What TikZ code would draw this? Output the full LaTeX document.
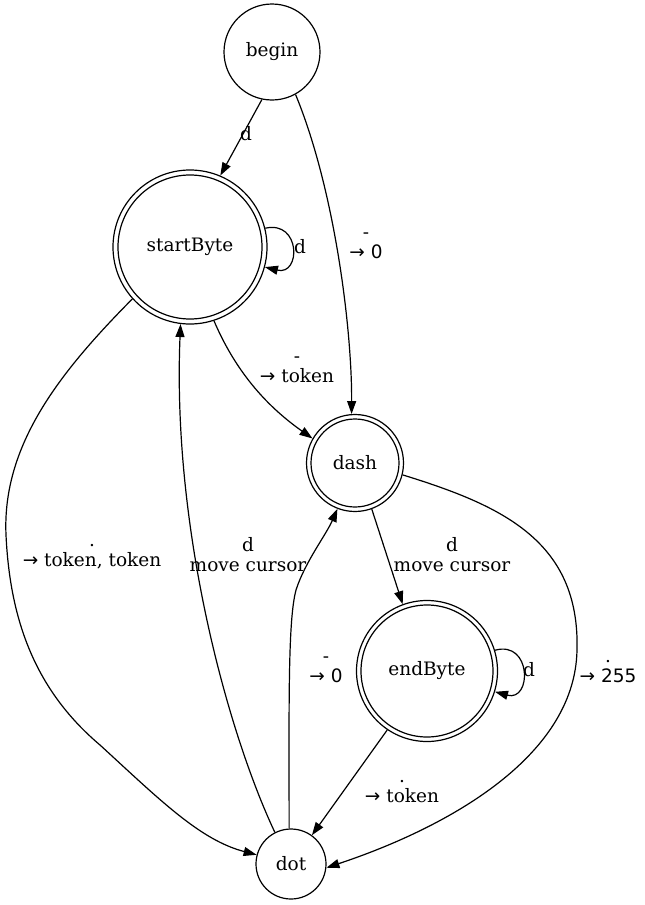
\documentclass[tikz,border=0pt]{standalone}
\usepackage{fontspec}
\setmainfont{DejaVu Serif}
\newfontfamily\symfont{DejaVu Sans}
\usetikzlibrary{arrows.meta}
% arrow and digits in the sans face
\newcommand{\toarr}{{\symfont →}}
\newcommand{\sdig}[1]{{\symfont #1}}
\begin{document}
\begin{tikzpicture}[x=1pt,y=-1pt,
  labelfont/.style={font=\fontsize{18.5}{20}\selectfont},
  state/.style={circle,draw,line width=1.2pt,inner sep=0pt,labelfont},
  ring/.style={circle,draw,line width=1.2pt,inner sep=0pt},
  edge/.style={line width=1.2pt,-{Triangle[length=13pt,width=9pt]}},
  lbl/.style={align=center,inner sep=0pt,labelfont}]
\useasboundingbox (0,0) rectangle (645,905);

% states
\node[state,minimum size=96pt] (begin) at (272,52) {begin};
\node[state,minimum size=154pt] (startByte) at (190,247) {startByte};
\node[ring,minimum size=144pt] (startByteIn) at (startByte) {};
\node[state,minimum size=97pt] (dash) at (355,463) {dash};
\node[ring,minimum size=88pt] (dashIn) at (dash) {};
\node[state,minimum size=141pt] (endByte) at (427,671) {endByte};
\node[ring,minimum size=132pt] (endByteIn) at (endByte) {};
\node[state,minimum size=70pt] (dot) at (291,864) {dot};

% transitions
\draw[edge] (begin.258) -- (startByte.67);
\node[lbl] (lBeginStart) at (246,134) {d};

\draw[edge] (begin.299) .. controls (335,190) and (352,330) .. (dash.94);
\node[lbl] (lBeginDash) at (366,246) {-\\\toarr{} \sdig{0}};

\draw[edge] (startByte.14) .. controls (301,220) and (301,276) .. (startByte.-15);
\node[lbl] (lStartLoop) at (300,247) {d};

\draw[edge] (startByte.288) .. controls (235,370) and (265,405) .. (dash.150);
\node[lbl] (lStartDash) at (297,370) {-\\\toarr{} token};

\draw[edge] (startByte.222) .. controls (60,372) and (2,445) .. (6,535)
  .. controls (10,620) and (35,690) .. (100,745)
  .. controls (160,800) and (200,840) .. (dot.165);
\node[lbl] (lStartDot) at (92,557) {.\\\toarr{} token, token};

\draw[edge] (dot.117) .. controls (228,733) and (172,530) .. (startByte.263);
\node[lbl] (lDotStart) at (248,555) {d\\move cursor};

\draw[edge] (dot.93) .. controls (289,700) and (288,620) .. (296,590)
  .. controls (305,562) and (326,535) .. (dash.249);
\node[lbl] (lDotDash) at (326,670) {-\\\toarr{} \sdig{0}};

\draw[edge] (dash.290) -- (endByte.110);
\node[lbl] (lDashEnd) at (452,555) {d\\move cursor};

\draw[edge] (dash.-14) .. controls (500,505) and (580,540) .. (577,650)
  .. controls (575,760) and (440,830) .. (dot.-6);
\node[lbl] (lDashDot) at (608,672) {.\\\toarr{} \sdig{255}};

\draw[edge] (endByte.17) .. controls (532,640) and (532,702) .. (endByte.-17);
\node[lbl] (lEndLoop) at (529,670) {d};

\draw[edge] (endByte.236) -- (dot.54);
\node[lbl] (lEndDot) at (402,792) {.\\\toarr{} token};
\end{tikzpicture}
\end{document}
